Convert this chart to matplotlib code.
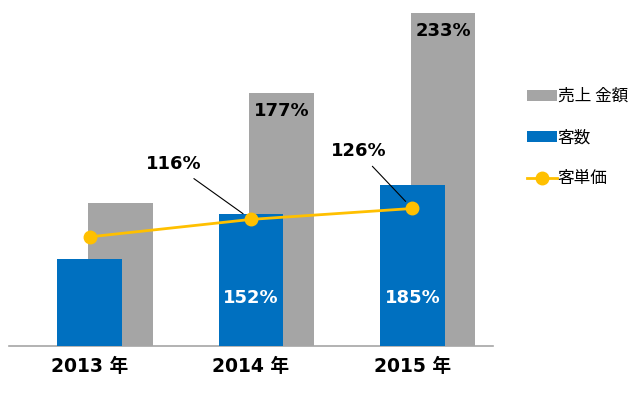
import numpy as np
import matplotlib
matplotlib.use("Agg")
from matplotlib import pyplot as plt

plt.rcParams['font.family'] = ['DejaVu Sans', 'Noto Sans CJK JP']

years = ["2013 年", "2014 年", "2015 年"]
sales = [100, 177, 233]        # 売上金額 (%)
customers = [100, 152, 185]    # 客数 (%)
unit_price = [100, 116, 126]   # 客単価 (%)

sales_labels = ["", "177%", "233%"]
cust_labels = ["", "152%", "185%"]
price_labels = ["", "116%", "126%"]

GRAY = '#A5A5A5'
BLUE = '#0070C0'
YELLOW = '#FFC000'

x = np.arange(len(years))

fig = plt.figure(figsize=(6.38, 3.93), dpi=100)
ax = fig.add_axes([9 / 638, 47 / 393, 484 / 638, 346 / 393])
ax2 = ax.twinx()
ax3 = ax.twinx()

# gray bars (behind)
ax.bar(x + 0.19, sales, width=0.40, color=GRAY, label='売上 金額')
ax.set_ylim(0, 242)
for xi, v, s in zip(x, sales, sales_labels):
    if s:
        ax.annotate(s, (xi + 0.19, v), xytext=(0, -9), textcoords='offset pixels',
                    ha='center', va='top', fontsize=13, fontweight='bold', color='black')

# blue bars
ax2.bar(x, customers, width=0.40, color=BLUE, label='客数')
ax2.set_ylim(0, 398)
for xi, s in zip(x, cust_labels):
    if s:
        ax2.text(xi, 55, s, ha='center', va='center', fontsize=13,
                 fontweight='bold', color='white')

# line
ax3.plot(x, unit_price, color=YELLOW, lw=2.0, marker='o', markersize=9, label='客単価')
ax3.set_ylim(0, 317)
offsets = [None, (-77, 55), (-54, 57)]
for xi, v, s, off in zip(x, unit_price, price_labels, offsets):
    if s:
        ax3.annotate(s, (xi, v), xytext=off, textcoords='offset pixels',
                     ha='center', va='center', fontsize=13, fontweight='bold',
                     color='black',
                     arrowprops=dict(arrowstyle='-', color='black', lw=0.8,
                                     shrinkA=3, shrinkB=7))

for a in (ax, ax2, ax3):
    a.set_xlim(-0.5, 2.5)
    for sp in ('top', 'right', 'left', 'bottom'):
        a.spines[sp].set_visible(False)
    a.set_yticks([])

ax.spines['bottom'].set_visible(True)
ax.spines['bottom'].set_color('#A6A6A6')
ax.spines['bottom'].set_linewidth(1.2)
ax.set_xticks(x)
ax.set_xticklabels(years, fontsize=13.5, fontweight='bold')
ax.tick_params(axis='x', length=0, pad=8)

handles = []
labels = []
for a in (ax, ax2, ax3):
    h, l = a.get_legend_handles_labels()
    handles += h
    labels += l
fig.legend(handles, labels, loc='upper left', bbox_to_anchor=(512 / 638, 1 - 73 / 393),
           frameon=False, prop={'family': ['Noto Sans CJK JP'], 'size': 12},
           handlelength=1.8, handleheight=0.62, handletextpad=0.05, labelspacing=1.45)

fig.savefig('out.png', dpi=100)
